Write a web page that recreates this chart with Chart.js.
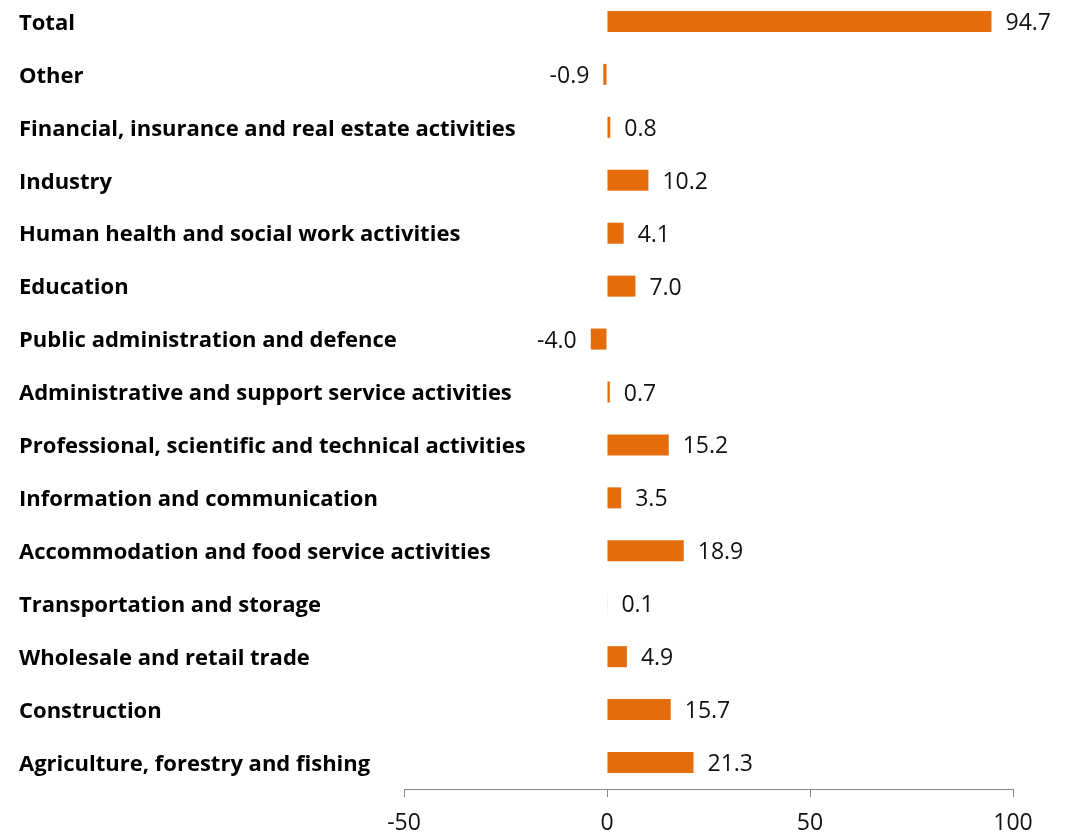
<!DOCTYPE html>
<html><head><meta charset="utf-8">
<script src="https://cdn.jsdelivr.net/npm/chart.js@4"></script>
<style>
html,body{margin:0;padding:0;background:#fff;overflow:hidden}
#wrap{position:absolute;left:0;top:-5px;width:1066px;height:840px}
</style>
</head><body><div id="wrap"><canvas id="c"></canvas></div>
<script>
const categories = [
  "Total",
  "Other",
  "Financial, insurance and real estate activities",
  "Industry",
  "Human health and social work activities",
  "Education",
  "Public administration and defence",
  "Administrative and support service activities",
  "Professional, scientific and technical activities",
  "Information and communication",
  "Accommodation and food service activities",
  "Transportation and storage",
  "Wholesale and retail trade",
  "Construction",
  "Agriculture, forestry and fishing"
];
const values = [94.7, -0.9, 0.8, 10.2, 4.1, 7.0, -4.0, 0.7, 15.2, 3.5, 18.9, 0.1, 4.9, 15.7, 21.3];
const xTicks = [-50, 0, 50, 100];

const barColor = '#E46C0A';
const numFont = { family: "'Open Sans'", size: 23 };
const catFont = { family: "'Open Sans'", size: 22, weight: 'bold' };

const labelsPlugin = {
  id: 'labelsPlugin',
  afterDatasetsDraw(chart) {
    const ctx = chart.ctx;
    const meta = chart.getDatasetMeta(0);
    const yScale = chart.scales.y;
    ctx.save();
    // category labels (left aligned)
    ctx.font = `bold ${catFont.size}px ${catFont.family}`;
    ctx.fillStyle = '#000';
    ctx.textAlign = 'left';
    ctx.textBaseline = 'middle';
    categories.forEach((c, i) => {
      ctx.fillText(c, 19, yScale.getPixelForTick(i) + 2);
    });
    // value labels
    ctx.font = `${numFont.size}px ${numFont.family}`;
    ctx.fillStyle = '#111';
    meta.data.forEach((el, i) => {
      const v = values[i];
      const txt = v.toFixed(1);
      if (v >= 0) {
        ctx.textAlign = 'left';
        ctx.fillText(txt, el.x + 14, el.y + 2);
      } else {
        ctx.textAlign = 'right';
        ctx.fillText(txt, el.x - 14, el.y + 2);
      }
    });
    ctx.restore();
  }
};

new Chart(document.getElementById('c'), {
  type: 'bar',
  data: {
    labels: categories,
    datasets: [{
      data: values,
      backgroundColor: barColor,
      borderWidth: 0,
      barPercentage: 0.397,
      categoryPercentage: 1
    }]
  },
  options: {
    indexAxis: 'y',
    responsive: true,
    maintainAspectRatio: false,
    animation: false,
    layout: { padding: { left: 19, right: 53, top: 0, bottom: 0 } },
    plugins: { legend: { display: false }, tooltip: { enabled: false } },
    scales: {
      x: {
        min: -50, max: 100,
        afterBuildTicks: s => { s.ticks = xTicks.map(v => ({ value: v })); },
        afterFit: s => { s.height = 46; },
        grid: { display: true, drawOnChartArea: false, drawTicks: true, tickLength: 8, color: '#868686', lineWidth: 1 },
        border: { display: true, color: '#868686', width: 1 },
        ticks: { font: numFont, color: '#111', padding: 13, maxRotation: 0, autoSkip: false }
      },
      y: {
        afterFit: s => { s.width = 385; },
        grid: { display: false },
        border: { display: false },
        ticks: { display: false }
      }
    }
  },
  plugins: [labelsPlugin]
});
</script>
</body></html>
